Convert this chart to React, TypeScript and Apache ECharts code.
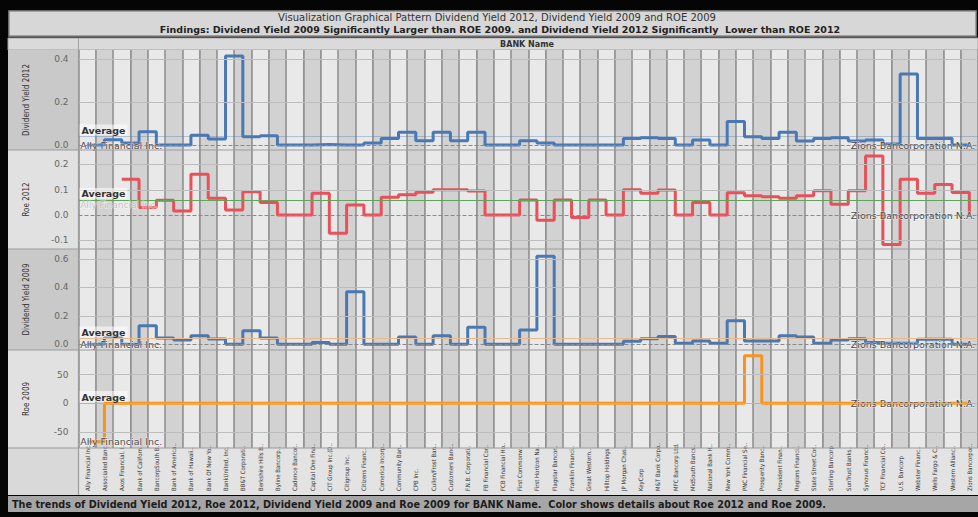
import React, { useEffect, useRef } from "react";
import * as echarts from "echarts";

const categories = [
  "Ally Financial Inc.", "Associated Banc..", "Axos Financial, I..", "Bank of Californ..", "BancorpSouth B..",
  "Bank of America..", "Bank of Hawaii..", "Bank Of New Yo..", "BankUnited, Inc.", "BB&T Corporati..",
  "Berkshire Hills B..", "Byline Bancorp..", "Cadence Bancor..", "Capital One Fina..", "CIT Group Inc.(D..",
  "Citigroup Inc.", "Citizens Financ..", "Comerica Incorp..", "Community Ban..", "CPB Inc.",
  "Cullen/Frost Ban..", "Customers Banc..", "F.N.B. Corporati..", "FB Financial Cor..", "FCB Financial Ho..",
  "First Commonw..", "First Horizon Na..", "Flagstar Bancor..", "Franklin Financi..", "Great Western..",
  "Hilltop Holdings", "JP Morgan Chas..", "KeyCorp", "M&T Bank Corpo..", "MFC Bancorp Ltd.",
  "MidSouth Bancs..", "National Bank H..", "New York Comm..", "PNC Financial Se..", "Prosperity Banc..",
  "Provident Finan..", "Regions Financi..", "State Street Cor..", "Sterling Bancorp", "SunTrust Banks..",
  "Synovus Financi..", "TCF Financial Co..", "U.S. Bancorp", "Webster Financ..", "Wells Fargo & C..",
  "Western Allianc..", "Zions Bancorpor.."
];

const divYield2012 = [
  0.0, 0.025, 0.01, 0.062, 0.0, 0.0, 0.046, 0.028, 0.414, 0.039,
  0.043, 0.0, 0.0, 0.003, 0.0, 0.0, 0.01, 0.03, 0.06, 0.02,
  0.06, 0.02, 0.06, 0.0, 0.0, 0.02, 0.01, 0.0, 0.0, 0.0,
  0.0, 0.03, 0.034, 0.03, 0.0, 0.023, 0.0, 0.11, 0.039, 0.03,
  0.059, 0.019, 0.03, 0.034, 0.019, 0.023, 0.005, 0.33, 0.03, 0.032,
  0.0, 0.0
];

const roe2012 = [
  null, null, 0.141, 0.03, 0.059, 0.016, 0.161, 0.066, 0.02, 0.092,
  0.05, 0.0, 0.0, 0.086, -0.072, 0.04, 0.0, 0.07, 0.08, 0.09,
  0.1, 0.1, 0.095, 0.0, 0.0, 0.06, -0.02, 0.06, -0.01, 0.06,
  0.0, 0.1, 0.086, 0.099, 0.0, 0.05, 0.0, 0.088, 0.076, 0.072,
  0.066, 0.076, 0.096, 0.043, 0.096, 0.233, -0.116, 0.141, 0.086, 0.121,
  0.089, 0.0
];

const divYield2009 = [
  0.0, 0.047, 0.0, 0.13, 0.043, 0.03, 0.059, 0.036, 0.0, 0.095,
  0.043, 0.0, 0.0, 0.012, 0.0, 0.37, 0.0, 0.0, 0.05, 0.0,
  0.06, 0.0, 0.12, 0.0, 0.0, 0.1, 0.62, 0.0, 0.0, 0.0,
  0.0, 0.02, 0.038, 0.054, 0.007, 0.023, 0.007, 0.166, 0.023, 0.023,
  0.059, 0.05, 0.007, 0.03, 0.038, 0.012, 0.007, 0.007, 0.035, 0.035,
  0.0, 0.0
];

const roe2009 = [
  -67, 0, 0, 0, 0, 0, 0, 0, 0, 0,
  0, 0, 0, 0, 0, 0, 0, 0, 0, 0,
  0, 0, 0, 0, 0, 0, 0, 0, 0, 0,
  0, 0, 0, 0, 0, 0, 0, 0, 83, 0,
  0, 0, 0, 0, 0, 0, 0, 0, 0, 0,
  0, 0
];

const panelNames = ["Dividend Yield 2012", "Roe 2012", "Dividend Yield 2009", "Roe 2009"];
const tickValues = [[0, 0.2, 0.4], [-0.1, 0, 0.1, 0.2], [0, 0.2, 0.4, 0.6], [-50, 0, 50]];
const averages = [0.035, 0.059, 0.045, 0.5];
const yMins = [-0.023, -0.134, -0.041, -77.9];
const yMaxs = [0.442, 0.257, 0.671, 92.9];
const firstLabel = "Ally Financial Inc.";
const lastLabel = "Zions Bancorporation N.A.";
const titleLine1 = "Visualization Graphical Pattern Dividend Yield 2012, Dividend Yield 2009 and ROE 2009";
const titleLine2 = "Findings: Dividend Yield 2009 Significantly Larger than ROE 2009. and Dividend Yield 2012 Significantly  Lower than ROE 2012";
const headerText = "BANK Name";
const footerText = "The trends of Dividend Yield 2012, Roe 2012, Dividend Yield 2009 and Roe 2009 for BANK Name.  Color shows details about Roe 2012 and Roe 2009.";

const seriesData = [divYield2012, roe2012, divYield2009, roe2009];

export default function App() {
  const ref = useRef<HTMLDivElement>(null);

  useEffect(() => {
    if (!ref.current) return;
    const chart = echarts.init(ref.current, null, { renderer: "svg" });

    const W = 978;
    const plotLeft = 78.5;
    const panels = [
      { top: 50, height: 100 },
      { top: 150, height: 99 },
      { top: 249, height: 101 },
      { top: 350, height: 98 },
    ];
    const lineColors = ["#4a78b3", "#e8505a", "#4a78b3", "#f7941e"];
    const avgColors = ["rgba(74,120,179,0.35)", "#5fa55a", "#e9bb8c", "#b4b4b4"];
    const headerFills = ["#c9c9c9", "#e1e1e1", "#c9c9c9", "#e1e1e1"];
    const fontSans = "DejaVu Sans, sans-serif";
    const fontNarrow = "Liberation Sans Narrow, DejaVu Sans Condensed, Arial Narrow, sans-serif";

    const labelStyle = {
      color: "#4a4a4a",
      fontSize: 9.5,
      fontFamily: fontSans,
      textBorderColor: "rgba(255,255,255,0.6)",
      textBorderWidth: 1,
    };

    const grids: any[] = panels.map((p) => ({ left: plotLeft, right: 0, top: p.top, height: p.height }));
    grids.push({ left: plotLeft, right: 0, top: 493, height: 1 });

    const xAxes: any[] = panels.map((_, i) => ({
      type: "category",
      gridIndex: i,
      data: categories,
      boundaryGap: true,
      axisLine: { show: false },
      axisTick: { show: false },
      axisLabel: { show: false },
      splitLine: { show: true, interval: 0, lineStyle: { color: "#8e8e8e", width: 1.5 } },
      splitArea: { show: true, interval: 0, areaStyle: { color: ["#e9e9e9", "#d2d2d2"] } },
    }));
    xAxes.push({
      type: "category",
      gridIndex: 4,
      position: "top",
      data: categories,
      boundaryGap: true,
      axisLine: { show: false },
      axisTick: { show: false },
      splitLine: { show: false },
      axisLabel: {
        show: true,
        interval: 0,
        rotate: 90,
        margin: 2,
        fontSize: 6,
        color: "#333",
        fontFamily: fontNarrow,
      },
    });

    const yAxes: any[] = panels.map((_, i) => ({
      type: "value",
      gridIndex: i,
      min: yMins[i],
      max: yMaxs[i],
      name: panelNames[i],
      nameLocation: "middle",
      nameGap: 48,
      nameRotate: 90,
      nameTextStyle: { color: "#333", fontSize: 8, fontFamily: fontNarrow },
      axisLine: { show: false },
      axisTick: { show: false, customValues: tickValues[i] },
      splitLine: { show: false },
      axisLabel: {
        customValues: tickValues[i],
        color: "#666",
        fontSize: 9,
        margin: 10,
        fontFamily: fontSans,
        formatter: (v: number) => (i === 3 ? String(Math.round(v)) : v.toFixed(1)),
      },
    }));
    yAxes.push({ type: "value", gridIndex: 4, show: false });

    const series: any[] = seriesData.map((arr, i) => {
      const n = arr.length;
      const data = arr.map((v, k) => {
        if (k === 0 && v !== null) {
          return {
            value: v,
            label: { show: true, position: "right", distance: -7, formatter: firstLabel },
          };
        }
        if (k === n - 1) {
          return {
            value: v,
            label: { show: true, position: "left", distance: -6, formatter: lastLabel },
          };
        }
        return v === null ? "-" : v;
      });
      const gridLines = tickValues[i]
        .filter((v) => v !== 0)
        .map((v) => ({
          yAxis: v,
          lineStyle: { color: "#bdbdbd", width: 1, type: "solid" },
          label: { show: false },
        }));
      const s: any = {
        type: "line",
        xAxisIndex: i,
        yAxisIndex: i,
        step: "end",
        data,
        connectNulls: false,
        showSymbol: true,
        showAllSymbol: true,
        symbol: "circle",
        symbolSize: 0,
        lineStyle: { color: lineColors[i], width: 3 },
        itemStyle: { color: lineColors[i] },
        label: { show: false, ...labelStyle },
        emphasis: { disabled: true },
        markLine: {
          silent: true,
          symbol: ["none", "none"],
          animation: false,
          data: [
            ...gridLines,
            {
              yAxis: 0,
              lineStyle: { color: "#8a8a8a", width: 1, type: "dashed" },
              label: { show: false },
            },
            {
              yAxis: averages[i],
              lineStyle: { color: avgColors[i], width: 1.2, type: "solid" },
              label: {
                show: true,
                position: "insideStartTop",
                distance: 1,
                formatter: "Average",
                color: "#333",
                fontWeight: "bold",
                fontSize: 9.5,
                fontFamily: fontSans,
                backgroundColor: "rgba(255,255,255,0.55)",
                padding: [1, 2, 0, 2],
              },
            },
          ],
        },
      };
      if (arr[0] === null) {
        s.markPoint = {
          silent: true,
          animation: false,
          data: [
            {
              coord: [0, averages[i] - 0.02],
              symbol: "circle",
              symbolSize: 0,
              label: {
                show: true,
                position: "right",
                distance: -7,
                formatter: firstLabel,
                ...labelStyle,
                fontSize: 9,
                color: "rgba(80,80,80,0.35)",
              },
            },
          ],
        };
      }
      return s;
    });
    series.push({ type: "line", xAxisIndex: 4, yAxisIndex: 4, data: [] });

    const graphics: any[] = [
      { type: "rect", shape: { x: 9, y: 11, width: W - 11, height: 25 }, style: { fill: "#d7d7d7", stroke: "#8f8f8f", lineWidth: 1.5 }, z: -10 },
      { type: "text", x: 497, y: 17.5, style: { text: titleLine1, fill: "#333", font: "10px DejaVu Sans, sans-serif", textAlign: "center", textVerticalAlign: "middle" } },
      { type: "text", x: 500, y: 29, style: { text: titleLine2, fill: "#222", font: "bold 9.5px DejaVu Sans, sans-serif", textAlign: "center", textVerticalAlign: "middle" } },
      { type: "rect", shape: { x: 8, y: 38, width: W - 8, height: 12 }, style: { fill: "#dadada", stroke: "#a3a3a3", lineWidth: 1 }, z: -10 },
      { type: "line", shape: { x1: plotLeft, y1: 38, x2: plotLeft, y2: 50 }, style: { stroke: "#a3a3a3", lineWidth: 1 } },
      { type: "text", x: 527, y: 44.5, style: { text: headerText, fill: "#333", font: "bold 8px DejaVu Sans, sans-serif", textAlign: "center", textVerticalAlign: "middle" } },
      { type: "rect", shape: { x: 8, y: 448, width: W - 8, height: 47 }, style: { fill: "#e3e3e3" }, z: -10 },
      { type: "rect", shape: { x: 8, y: 448, width: plotLeft - 8, height: 47 }, style: { fill: "#d9d9d9" }, z: -9 },
      { type: "rect", shape: { x: 8, y: 496, width: W - 8, height: 16 }, style: { fill: "#a6a6a6" }, z: -10 },
      { type: "text", x: 12, y: 504.5, style: { text: footerText, fill: "#1c1c1c", font: "bold 9.7px DejaVu Sans, sans-serif", textAlign: "left", textVerticalAlign: "middle" } },
    ];
    panels.forEach((p, i) => {
      graphics.push({ type: "rect", shape: { x: 8, y: p.top, width: plotLeft - 8, height: p.height }, style: { fill: headerFills[i] }, z: -9 });
      graphics.push({ type: "line", shape: { x1: 8, y1: p.top + p.height, x2: W, y2: p.top + p.height }, style: { stroke: "#9c9c9c", lineWidth: 1.2 }, z: 10 });
    });
    graphics.push({ type: "line", shape: { x1: plotLeft, y1: 50, x2: plotLeft, y2: 495 }, style: { stroke: "#9c9c9c", lineWidth: 1.2 }, z: 10 });

    chart.setOption({
      animation: false,
      backgroundColor: "#050505",
      textStyle: { fontFamily: fontSans },
      grid: grids,
      xAxis: xAxes,
      yAxis: yAxes,
      series,
      graphic: graphics,
    });

    return () => chart.dispose();
  }, []);

  return (
    <div
      ref={ref}
      style={{ position: "fixed", left: 0, top: 0, width: 978, height: 517 }}
    />
  );
}
